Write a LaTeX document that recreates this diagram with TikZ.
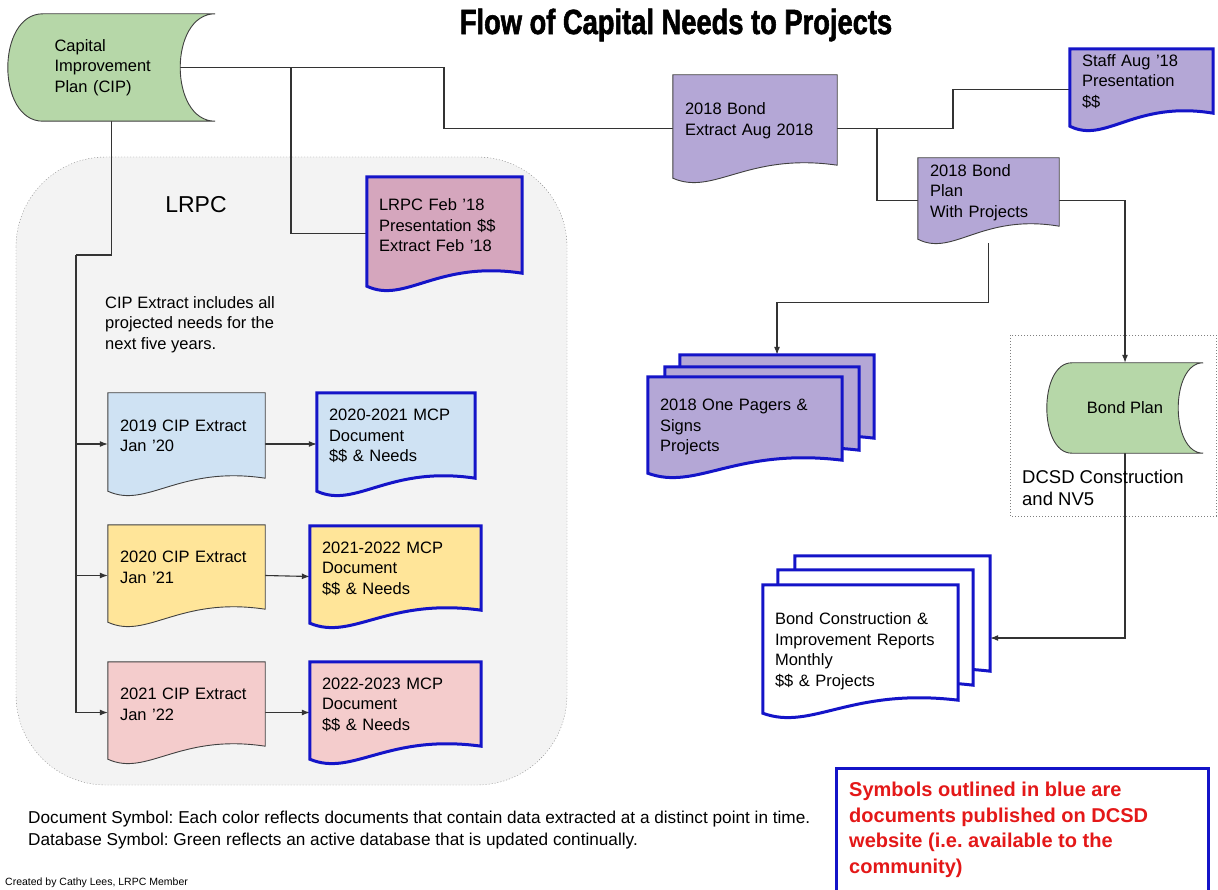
\documentclass[tikz,border=0pt]{standalone}
\usepackage{fontspec}
\setmainfont{Liberation Sans}
\newfontfamily\titlefont{Liberation Sans}[FakeStretch=0.78,FakeBold=1.6]
\usetikzlibrary{calc,arrows.meta}
\frenchspacing

\definecolor{cipgreen}{HTML}{B6D7A8}
\definecolor{purp}{HTML}{B4A7D6}
\definecolor{mauve}{HTML}{D5A6BD}
\definecolor{lblue}{HTML}{CFE2F3}
\definecolor{lyellow}{HTML}{FFE599}
\definecolor{lpink}{HTML}{F4CCCC}
\definecolor{lrpcgray}{HTML}{F3F3F3}
\definecolor{pubblue}{RGB}{20,20,200}
\definecolor{pubred}{RGB}{228,24,24}

\pgfdeclarelayer{bg}
\pgfdeclarelayer{lines}
\pgfdeclarelayer{shapes}
\pgfsetlayers{bg,lines,shapes,main}

\newcommand{\lbl}{\fontsize{16.5}{20.5}\selectfont}
% document symbol: flat top, wavy bottom
\newcommand{\docpath}[1]{(#1.north west) -- (#1.north east) -- ($(#1.south east)+(0,-17)$)
  .. controls ($(#1.south west)!0.45!(#1.south east)+(0,-30)$) and ($(#1.south west)!0.25!(#1.south east)+(0,14)$) .. ($(#1.south west)+(0,-4)$) -- cycle}
% database symbol (stored data)
\newcommand{\dbpath}[2]{($(#1.north west)+(#2,0)$) -- (#1.north east)
  .. controls ($(#1.north east)+(-1.333*#2,0)$) and ($(#1.south east)+(-1.333*#2,0)$) .. (#1.south east)
  -- ($(#1.south west)+(#2,0)$)
  .. controls ($(#1.south west)+(-0.333*#2,0)$) and ($(#1.north west)+(-0.333*#2,0)$) .. cycle}

\tikzset{
  conn/.style={draw=black!80, line width=1.1pt},
  arr/.style={conn, -{Latex[length=8pt,width=6pt]}},
  docline/.style={draw=black!75, line width=0.9pt},
  publine/.style={draw=pubblue, line width=3pt},
  doc/.style={rectangle, inner xsep=12pt, inner ysep=0pt, align=left, font=\lbl},
  lift/.style={execute at end node={\par\vspace*{16pt}}},
}

\begin{document}
\begin{tikzpicture}[x=1pt,y=-1pt]
\useasboundingbox (0,0) rectangle (1218,890);

\node[font=\titlefont\bfseries\fontsize{35}{40}\selectfont] (title) at (676,25) {Flow of Capital Needs to Projects};

% databases
\node[doc, minimum width=207, minimum height=107, text width=114pt] (cip) at (111.5,67.5) {Capital\\Improvement\\Plan (CIP)};
\node[doc, align=center, minimum width=156, minimum height=90] (bplan) at (1125,408) {Bond Plan};

% documents
\node[doc, lift, minimum width=164, minimum height=107, text width=140pt] (bext) at (755,128.5) {2018 Bond\\Extract Aug 2018};
\node[doc, lift, minimum width=143, minimum height=81, text width=119pt] (staff) at (1141.5,89.5) {Staff Aug '18\\Presentation\\\$\$};
\node[doc, lift, minimum width=141, minimum height=85, text width=117pt] (bpd) at (988.5,200.5) {2018 Bond\\Plan\\With Projects};
\node[doc, lift, minimum width=155, minimum height=113, text width=131pt] (lrpcf) at (444.5,233.5) {LRPC Feb '18\\Presentation \$\$\\Extract Feb '18};
\node[doc, lift, minimum width=157, minimum height=102, text width=133pt] (e19) at (186.5,444) {2019 CIP Extract\\Jan '20};
\node[doc, lift, minimum width=157, minimum height=101, text width=133pt] (e20) at (186.5,575.5) {2020 CIP Extract\\Jan '21};
\node[doc, lift, minimum width=157, minimum height=101, text width=133pt] (e21) at (186.5,712.5) {2021 CIP Extract\\Jan '22};
\node[doc, lift, minimum width=158, minimum height=102, text width=134pt] (m20) at (396,444) {2020-2021 MCP\\Document\\\$\$ \& Needs};
\node[doc, lift, minimum width=171, minimum height=101, text width=147pt] (m21) at (395.5,576.5) {2021-2022 MCP\\Document\\\$\$ \& Needs};
\node[doc, lift, minimum width=171, minimum height=101, text width=147pt] (m22) at (395.5,712.5) {2022-2023 MCP\\Document\\\$\$ \& Needs};

% stacks of documents
\node[doc, minimum width=194, minimum height=100, text width=170pt] (pg) at (745,427) {2018 One Pagers \&\\Signs\\Projects};
\node[doc, minimum width=194, minimum height=100] (pg2) at ($(pg)+(17,-10)$) {};
\node[doc, minimum width=194, minimum height=100] (pg3) at ($(pg)+(32,-22)$) {};
\node[doc, minimum width=195, minimum height=132, text width=171pt] (bc) at (860.5,651) {Bond Construction \&\\Improvement Reports\\Monthly\\\$\$ \& Projects};
\node[doc, minimum width=195, minimum height=132] (bc2) at ($(bc)+(15,-15)$) {};
\node[doc, minimum width=195, minimum height=132] (bc3) at ($(bc)+(32,-29)$) {};

% free texts
\node[font=\fontsize{23}{27}\selectfont] (lrpc) at (196,205) {LRPC};
\node[anchor=north west, inner sep=0pt, align=left, font=\lbl] (note) at (105,296) {CIP Extract includes all\\projected needs for the\\next five years.};
\node[anchor=north west, inner sep=0pt, align=left, font=\fontsize{18.5}{22}\selectfont] (dcsd) at (1022,470) {DCSD Construction\\and NV5};
\node[anchor=north west, inner sep=0pt, align=left, font=\fontsize{17.2}{22}\selectfont] (symbols) at (28,811) {Document Symbol: Each color reflects documents that contain data extracted at a distinct point in time.\\Database Symbol: Green reflects an active database that is updated continually.};
\node[anchor=west, inner sep=0pt, font=\fontsize{10.5}{12}\selectfont] (credit) at (5,883) {Created by Cathy Lees, LRPC Member};
\node[anchor=north west, inner sep=0pt, align=left, text=pubred, font=\bfseries\fontsize{20}{25.5}\selectfont] (pubnote) at (849,782) {Symbols outlined in blue are\\documents published on DCSD\\website (i.e. available to the\\community)};
\draw[publine] (836,768) rectangle (1208,905);

\coordinate (k1) at (444,67.5);
\coordinate (k2) at (291,67.5);
\coordinate (k3) at (76,255);
\coordinate (k4) at (953,128.5);
\coordinate (k5) at (877,128.5);

\begin{pgfonlayer}{bg}
\fill[white] (0,0) rectangle (1218,890);
\draw[gray, dash pattern=on 1pt off 2pt, fill=lrpcgray, rounded corners=90pt] (16,157) rectangle (567,785);
\draw[gray, dash pattern=on 1pt off 2pt] (1010,335) rectangle (1216,516);
\end{pgfonlayer}

\begin{pgfonlayer}{lines}
\draw[conn] ($(cip.east)+(-35,0)$) -- (k1) |- (bext.west);
\draw[conn] (k2) |- (lrpcf.west);
\draw[conn] (cip.south) |- (k3);
\foreach \e in {e19,e20,e21} \draw[arr] (k3) |- (\e.west);
\foreach \e/\m in {e19/m20,e20/m21,e21/m22} \draw[arr] (\e.east) -- (\m.west);
\draw[conn] (bext.east) -- (k4) |- (staff.west);
\draw[conn] (k5) |- (bpd.west);
\draw[arr] (bpd.east) -| (bplan.north);
\draw[arr] (bpd.south) -- ++(0,59) -| (pg3.north);
\draw[arr] (bplan.south) |- ($(bc3.east)+(0,16)$);
\end{pgfonlayer}

\begin{pgfonlayer}{shapes}
\foreach \n/\b in {cip/35,bplan/25} \draw[docline, fill=cipgreen] \dbpath{\n}{\b};
\foreach \n/\c/\s in {bext/purp/docline, staff/purp/publine, bpd/purp/docline, lrpcf/mauve/publine,
  e19/lblue/docline, e20/lyellow/docline, e21/lpink/docline,
  m20/lblue/publine, m21/lyellow/publine, m22/lpink/publine,
  pg3/purp/publine, pg2/purp/publine, pg/purp/publine,
  bc3/white/publine, bc2/white/publine, bc/white/publine}
  \draw[\s, fill=\c] \docpath{\n};
\end{pgfonlayer}
\end{tikzpicture}
\end{document}
